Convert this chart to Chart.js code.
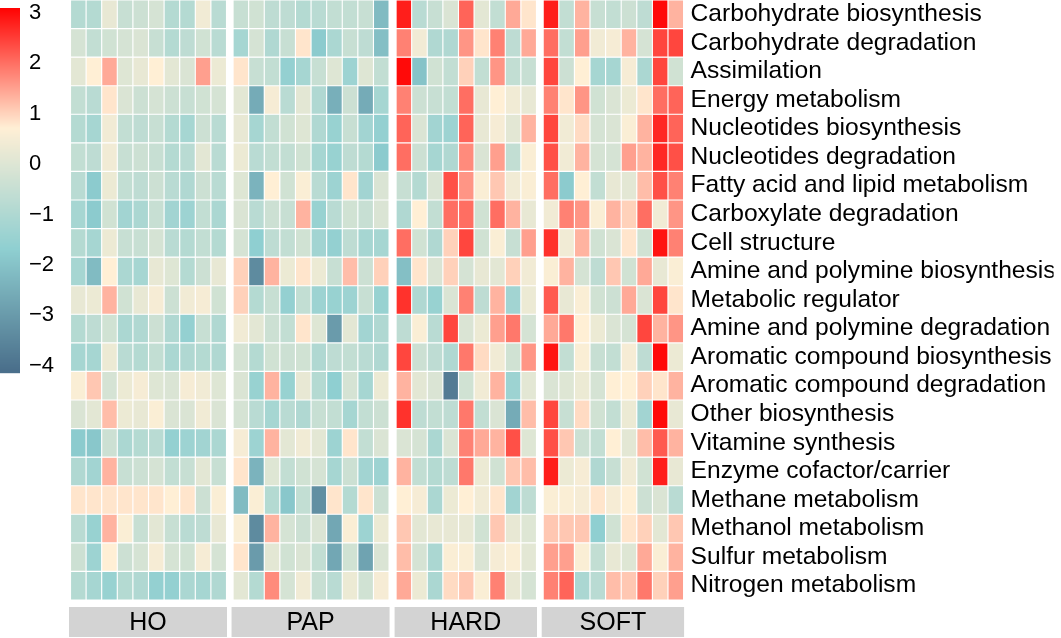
<!DOCTYPE html>
<html lang="en">
<head>
  <meta charset="UTF-8">
  <title>Functional category heatmap</title>
  <script src="https://cdn.jsdelivr.net/npm/chart.js"></script>
  <style>
    body { margin: 0; background: #fff; }
    canvas { display: block; }
  </style>
</head>
<body>
  <canvas id="heatmap" width="1061" height="638"></canvas>

  <script>
    const rowNames = [
      'Carbohydrate biosynthesis', 'Carbohydrate degradation', 'Assimilation', 'Energy metabolism',
      'Nucleotides biosynthesis', 'Nucleotides degradation', 'Fatty acid and lipid metabolism',
      'Carboxylate degradation', 'Cell structure', 'Amine and polymine biosynthesis', 'Metabolic regulator',
      'Amine and polymine degradation', 'Aromatic compound biosynthesis', 'Aromatic compound degradation',
      'Other biosynthesis', 'Vitamine synthesis', 'Enzyme cofactor/carrier', 'Methane metabolism',
      'Methanol metabolism', 'Sulfur metabolism', 'Nitrogen metabolism'
    ];
    const groupNames = ['HO', 'PAP', 'HARD', 'SOFT'];
    const legendTicks = [3, 2, 1, 0, -1, -2, -3, -4];

    // one row per category, one value per sample
    const hoValues = [
      [-0.9, -0.9, 0.2, -0.5, -0.4, -0.2, -0.9, -0.9, 0.4, -0.8],
      [-0.2, -0.6, -0.3, -0.2, -0.1, -0.5, -0.9, -0.7, -0.3, -0.8],
      [0.1, 0.7, 1.4, 0.0, 0.2, 0.7, 0.1, -0.1, 1.5, 0.3],
      [-0.6, -0.8, 0.8, -0.1, -0.4, -0.2, -0.4, -0.5, -0.3, -0.2],
      [-0.9, -1.2, 0.4, -0.6, -0.7, -0.5, -0.9, -1.2, -0.4, -0.8],
      [-0.6, -0.7, 0.4, -0.5, -0.4, -0.5, -0.9, -0.8, 0.1, -0.8],
      [-0.8, -1.8, 0.3, -0.6, -0.7, -0.4, -0.8, -1.0, -0.4, -0.8],
      [-1.2, -1.8, -0.3, -1.3, -1.1, -0.5, -1.3, -1.4, -0.6, -1.1],
      [-0.9, -1.2, 0.3, -0.5, -0.5, -0.2, -0.8, -0.9, -0.6, -0.9],
      [-1.2, -2.2, 0.7, -1.1, -1.2, 0.2, 0.0, -0.9, -0.4, 0.2],
      [0.2, 0.3, 1.3, -0.3, 0.2, 0.5, -0.4, 0.4, 0.5, -0.3],
      [-0.9, -0.7, -0.3, -1.1, -1.0, -0.4, -1.0, -1.6, -0.5, -1.0],
      [-1.2, -1.2, 0.3, -0.8, -0.9, -0.6, -1.1, -1.0, -0.9, -1.0],
      [0.6, 1.1, -0.2, 0.3, 0.5, 0.0, -0.1, 0.5, 0.4, 0.0],
      [-0.1, 0.1, 1.2, 0.3, 0.2, 0.6, -0.1, -0.1, 0.4, -0.1],
      [-1.8, -1.9, -0.4, -1.1, -0.9, -0.8, -1.6, -1.4, -1.3, -1.1],
      [-1.0, -1.3, 1.3, -0.5, -0.4, -0.2, -0.6, -0.5, 0.1, -0.5],
      [0.8, 0.8, 0.8, 0.8, 0.8, 0.8, 0.7, 0.8, -0.4, 0.6],
      [-0.8, -1.5, 1.3, 0.6, -0.5, 0.1, -0.5, -0.8, -0.7, 0.2],
      [-0.4, -1.4, 0.7, -0.4, -0.2, 0.5, -0.2, -0.3, 0.5, -0.2],
      [-0.9, -1.2, -1.5, -0.9, -1.0, -1.6, -1.6, -1.1, -1.2, -1.0]
    ];
    const papValues = [
      [-0.5, -0.3, -0.7, -0.7, -0.9, -0.8, -0.6, -0.6, -0.5, -2.2],
      [-1.2, -0.2, -1.0, -0.5, 0.8, -1.8, -1.1, -0.5, -0.7, -2.1],
      [0.8, -0.5, -0.6, -1.6, -1.2, -0.5, 0.0, -1.4, 0.0, -0.6],
      [0.1, -2.6, 0.5, -0.8, 0.1, -1.0, -2.5, -0.4, -2.6, -1.2],
      [0.2, -1.2, -0.6, -0.3, 0.0, -1.0, -1.5, -0.5, -1.3, -1.6],
      [0.3, -0.8, -0.6, -0.6, -0.3, -1.2, -1.5, -0.7, -0.9, -1.8],
      [0.0, -2.4, 0.7, -0.3, 0.6, -0.8, -1.4, 0.8, -1.3, -0.1],
      [-0.1, -0.8, -0.4, -0.5, 1.3, -1.5, -0.8, -0.3, -0.5, -0.1],
      [-0.2, -1.7, -0.7, -0.6, -0.3, -1.3, -1.6, -0.7, -1.2, -1.2],
      [1.0, -3.4, 1.3, 0.3, 0.8, 0.3, -0.5, 1.2, -0.4, 1.0],
      [1.0, -0.9, -0.5, -1.6, -0.6, -1.4, -1.5, -1.4, -0.5, -1.5],
      [0.4, 0.1, -0.4, -0.6, 0.8, 0.0, -3.0, 0.1, -1.3, -1.0],
      [-0.2, -0.9, -0.3, -0.4, -0.3, -1.0, -0.7, -0.6, -0.8, -1.0],
      [-0.1, -1.5, 1.3, -1.5, 0.2, -0.9, -1.7, -0.2, -1.2, 0.3],
      [-0.2, -0.8, -1.2, -0.8, -1.0, -0.5, -0.6, -1.2, -0.6, -0.4],
      [0.5, -1.4, 1.3, 0.1, 0.4, 0.1, -1.4, 0.8, -0.6, -0.1],
      [0.8, -2.4, 0.0, -0.6, -0.3, -0.2, -1.2, -0.4, -1.3, -1.4],
      [-2.2, 0.6, -0.9, -1.9, -0.6, -3.3, 0.8, -0.9, 0.8, -0.4],
      [0.6, -3.4, 1.3, -0.2, -0.4, -0.1, -2.7, 0.6, -1.4, 0.3],
      [0.8, -3.0, 0.1, -0.3, -0.1, -0.6, -2.7, -0.3, -2.8, -0.1],
      [0.1, -0.9, 1.7, -0.2, 0.4, -0.5, -0.8, 0.3, -0.3, 0.5]
    ];
    const hardValues = [
      [2.8, -0.8, -0.5, -0.1, 2.1, 0.1, -0.6, 1.4, 0.8],
      [1.8, 0.4, -1.0, -1.0, 1.6, 0.8, 1.8, -0.7, 1.4],
      [3.0, -2.0, -0.3, -0.6, 1.0, -0.6, 1.6, -0.6, -0.5],
      [1.8, -0.4, -0.5, -0.6, 2.0, 0.2, 0.7, 0.4, 0.2],
      [2.1, -0.1, -1.3, -1.4, 2.1, 0.2, 0.5, 0.1, 1.3],
      [2.0, -0.4, -1.2, -1.0, 1.7, -0.1, 1.5, -0.6, 0.6],
      [-0.5, -0.9, -0.1, 2.3, 1.6, 0.6, 1.1, 0.4, 0.6],
      [-1.0, 0.7, -0.6, 2.0, 2.0, -0.3, 2.0, 1.3, 0.2],
      [2.0, -0.3, -1.0, 1.0, 2.4, -0.3, 0.6, -0.5, 1.5],
      [-2.1, 0.8, -0.1, 1.0, -0.2, 0.2, 0.1, 1.0, 0.4],
      [2.6, -1.0, -1.5, -0.1, 1.8, -0.7, 1.3, -1.3, 0.3],
      [-0.7, 0.6, -0.8, 2.4, -0.1, 0.3, 1.5, 1.9, -0.2],
      [2.4, -0.4, -0.7, -1.0, 1.9, 0.9, 0.4, -0.3, 1.6],
      [1.3, 0.1, -0.1, -3.8, -0.3, 0.4, 1.3, -1.4, 0.1],
      [2.6, -0.7, -0.6, -0.7, 1.9, -0.6, -0.1, -2.6, 1.2],
      [-0.1, -0.2, -1.1, -0.1, 1.8, 1.4, 1.3, 2.3, 0.0],
      [1.3, -0.6, -0.9, -0.7, 1.9, 0.3, -0.3, 1.1, 1.2],
      [0.7, 0.5, -1.1, 0.3, 0.7, 0.4, 0.8, -1.3, -0.7],
      [1.1, 0.1, 0.2, 0.2, 0.2, -0.3, 1.1, 0.2, 0.0],
      [1.2, -0.2, -1.1, 0.6, 0.6, -0.1, 0.5, 0.6, 0.1],
      [1.4, 0.3, -1.1, 0.9, 1.1, 0.6, 1.8, 0.2, -0.2]
    ];
    const softValues = [
      [2.8, -0.6, 1.3, -0.5, -0.6, -0.4, -0.7, 3.0, 1.3],
      [2.0, -0.6, 1.5, 0.4, 0.5, 1.3, -0.2, 2.4, 2.4],
      [2.4, -0.4, 0.7, -1.2, -1.2, 0.5, -1.1, 2.4, -0.3],
      [1.8, 0.8, 1.6, -0.3, -0.1, 0.3, 0.8, 2.0, 2.1],
      [2.4, 0.4, 0.9, -0.2, -0.1, 0.6, 1.3, 2.7, 2.1],
      [2.3, 0.4, 1.3, -0.2, -0.2, 1.5, 1.3, 2.7, 2.3],
      [2.0, -1.8, 0.7, -0.6, 0.2, 0.1, 1.2, 2.3, 1.8],
      [0.4, 1.8, 1.6, 0.6, 1.3, 1.0, 2.0, 0.4, 1.6],
      [2.6, 0.4, 1.3, -0.3, -0.1, 0.8, -0.3, 2.9, 1.8],
      [0.6, 1.3, -0.2, -0.7, 1.1, -0.3, 1.4, 0.2, 0.6],
      [2.2, 0.2, 0.6, -0.3, -0.4, 1.4, -0.1, 2.4, 0.8],
      [1.4, 1.9, 0.7, 0.3, -0.1, -0.2, 2.4, 1.3, 1.6],
      [2.9, -0.6, 0.6, -0.5, -0.6, 0.5, -0.7, 3.0, 0.3],
      [-0.1, 0.0, 0.3, -0.2, 0.7, 0.7, 1.0, 0.8, 1.3],
      [2.4, -0.5, 0.9, -0.3, -0.6, 0.3, -1.3, 3.0, 0.2],
      [2.3, 1.1, -0.4, -0.6, 0.7, 0.1, 1.2, 2.2, 1.3],
      [2.8, 0.3, 0.5, -1.0, -0.5, 0.4, -0.3, 2.8, 0.2],
      [0.6, 0.6, 0.5, 0.8, 0.5, 0.7, -0.4, -0.1, -0.8],
      [1.1, 1.1, 1.1, -1.7, -0.3, 0.8, 1.0, 0.1, 1.1],
      [1.5, 1.5, 0.6, -0.6, 0.2, 0.0, 1.4, 0.6, 1.3],
      [1.8, 2.1, -1.1, -0.8, 1.2, 1.1, 1.9, 1.0, 1.5]
    ];

    const groupValues = [hoValues, papValues, hardValues, softValues];

    // layout: where each group starts on the x axis (in cell widths)
    const groupStart = [0, 10.42, 20.87, 30.3];
    const xMax = 39.3;

    // colour ramp: slate blue -> teal -> papayawhip -> red
    const colorStops = [
      [-4.1, [74, 111, 139]],
      [-1.7, [143, 207, 209]],
      [0.7, [255, 239, 213]],
      [3.1, [255, 0, 0]]
    ];

    function colorFor(v) {
      if (v <= colorStops[0][0]) return 'rgb(' + colorStops[0][1].join(',') + ')';
      for (let i = 1; i < colorStops.length; i++) {
        const [v1, c1] = colorStops[i];
        const [v0, c0] = colorStops[i - 1];
        if (v <= v1) {
          const t = (v - v0) / (v1 - v0);
          const c = c0.map((a, k) => Math.round(a + (c1[k] - a) * t));
          return 'rgb(' + c.join(',') + ')';
        }
      }
      return 'rgb(' + colorStops[colorStops.length - 1][1].join(',') + ')';
    }

    // one stacked dataset per row, each cell is one unit tall
    const datasets = rowNames.map((name, r) => {
      const data = [];
      const colors = [];
      groupValues.forEach((values, g) => {
        values[r].forEach((v, j) => {
          data.push({ x: groupStart[g] + j + 0.5, y: 1 });
          colors.push(colorFor(v));
        });
      });
      return {
        label: name,
        data: data,
        backgroundColor: colors,
        borderColor: '#ffffff',
        borderWidth: 0.9,
        borderSkipped: false,
        barPercentage: 1,
        categoryPercentage: 1
      };
    });

    const FONT = "'Liberation Sans', Arial, sans-serif";

    const extrasPlugin = {
      id: 'extras',
      afterDraw(chart) {
        const ctx = chart.ctx;
        const x = chart.scales.x;

        // group strips under the heatmap
        ctx.save();
        ctx.font = '25px ' + FONT;
        ctx.textAlign = 'center';
        ctx.textBaseline = 'middle';
        groupNames.forEach((name, g) => {
          const n = groupValues[g][0].length;
          const left = x.getPixelForValue(groupStart[g]) - 1.5;
          const right = x.getPixelForValue(groupStart[g] + n) + 0.5;
          ctx.fillStyle = '#d3d3d3';
          ctx.fillRect(left, 607, right - left, 30);
          ctx.fillStyle = '#000';
          ctx.fillText(name, (left + right) / 2, 623);
        });

        // colour legend
        const top = 8, bottom = 373, pxPerUnit = 50.4, y3 = 12;
        for (let py = top; py < bottom; py++) {
          const v = 3 - (py + 0.5 - y3) / pxPerUnit;
          ctx.fillStyle = colorFor(v);
          ctx.fillRect(0, py, 20, 1.2);
        }
        ctx.font = '22px ' + FONT;
        ctx.textAlign = 'left';
        ctx.fillStyle = '#000';
        legendTicks.forEach(t => {
          const label = t < 0 ? '\u2212' + Math.abs(t) : String(t);
          ctx.fillText(label, 29, y3 + (3 - t) * pxPerUnit + 1);
        });
        ctx.restore();
      }
    };

    new Chart(document.getElementById('heatmap'), {
      type: 'bar',
      data: { datasets: datasets },
      options: {
        responsive: false,
        animation: false,
        layout: { padding: { left: 70.5, right: 7.4, top: 0, bottom: 38 } },
        plugins: {
          legend: { display: false },
          tooltip: { enabled: false }
        },
        scales: {
          x: {
            type: 'linear', min: 0, max: xMax, offset: false, display: false, stacked: true,
            ticks: { stepSize: 10 }
          },
          y: { type: 'linear', min: 0, max: rowNames.length, reverse: true, display: false, stacked: true },
          rows: {
            type: 'category',
            labels: rowNames,
            position: 'right',
            offset: true,
            grid: { display: false, drawTicks: false },
            border: { display: false },
            ticks: { color: '#000', padding: 7, autoSkip: false, font: { size: 24.6, family: FONT } },
            afterFit(scale) {
              scale.width = 370;
              scale.paddingTop = 0;
              scale.paddingBottom = 0;
            }
          }
        }
      },
      plugins: [extrasPlugin]
    });
  </script>
</body>
</html>
